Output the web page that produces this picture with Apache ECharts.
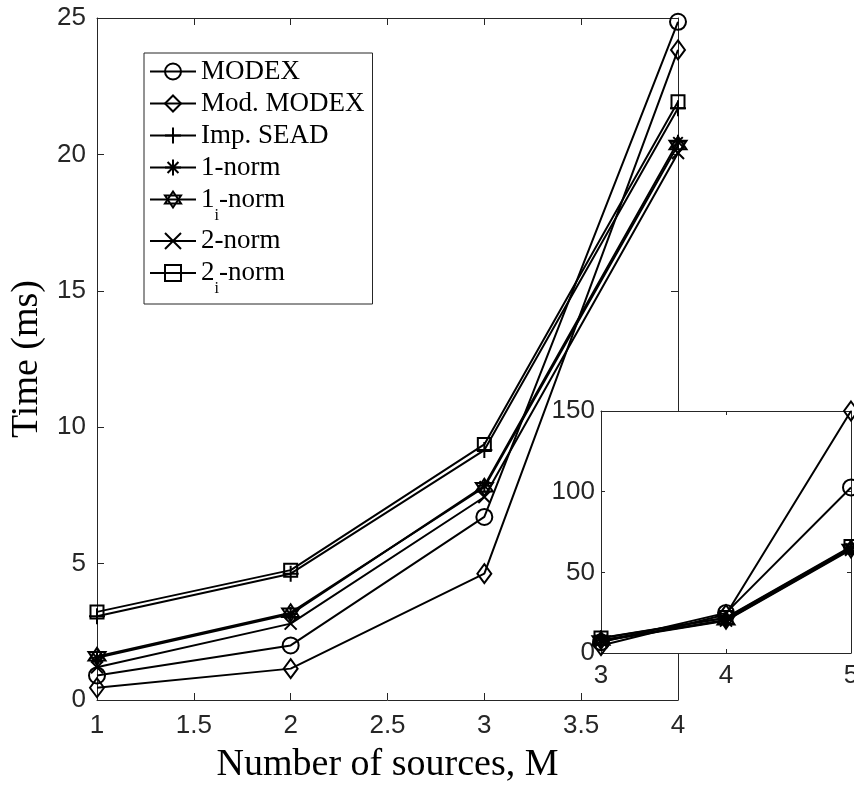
<!DOCTYPE html>
<html>
<head>
<meta charset="utf-8">
<script src="https://cdn.jsdelivr.net/npm/echarts@6/dist/echarts.min.js"></script>
<style>html,body{margin:0;padding:0;background:#fff;}#c{width:854px;height:790px;}</style>
</head>
<body>
<div id="c"></div>
<script>
// ---- data ----
const mValues = [1, 2, 3, 4, 5];
const seriesNames = ['MODEX', 'Mod. MODEX', 'Imp. SEAD', '1-norm', '1i-norm', '2-norm', '2i-norm'];
const modex    = [0.90, 2.00, 6.71, 24.86, 102.6];
const modModex = [0.45, 1.15, 4.63, 23.83, 150.0];
const impSead  = [3.07, 4.63, 9.16, 21.69, 65.5];
const norm1    = [1.55, 3.15, 7.85, 20.46, 65.0];
const norm1i   = [1.60, 3.20, 7.80, 20.34, 64.5];
const norm2    = [1.20, 2.80, 7.44, 20.05, 64.0];
const norm2i   = [3.23, 4.76, 9.37, 21.93, 66.0];
const mainXTicks = [1, 4, 0.5];   // min, max, interval
const mainYTicks = [0, 25, 5];
const insetXTicks = [3, 5, 1];
const insetYTicks = [0, 150, 50];

const allValues = [modex, modModex, impSead, norm1, norm1i, norm2, norm2i];
const symbols = [
  'circle',
  'diamond',
  'path://M5,0L5,10M0,5L10,5',
  'path://M5,0L5,10M0,5L10,5M1.6,1.6L8.4,8.4M1.6,8.4L8.4,1.6',
  'path://M5,0L9.33,7.5L0.67,7.5ZM5,10L0.67,2.5L9.33,2.5Z',
  'path://M0,0L10,10M0,10L10,0',
  'rect'
];
const symbolSizes = [16, [14, 19], 16, 14, 17, 12, 13];
const legendLabels = {
  'MODEX': 'MODEX', 'Mod. MODEX': 'Mod. MODEX', 'Imp. SEAD': 'Imp. SEAD',
  '1-norm': '1-norm', '1i-norm': '1{sub|i}-norm', '2-norm': '2-norm', '2i-norm': '2{sub|i}-norm'
};

const axisColor = '#262626';
const tickFont = {fontFamily: 'Liberation Sans', fontSize: 26, color: axisColor};

function makeSeries(xIdx, yIdx, from, to, z) {
  return seriesNames.map((name, i) => ({
    name: name,
    type: 'line',
    xAxisIndex: xIdx,
    yAxisIndex: yIdx,
    z: z,
    data: mValues.slice(from, to).map((m, k) => [m, allValues[i][from + k]]),
    symbol: symbols[i],
    symbolSize: symbolSizes[i],
    showAllSymbol: true,
    lineStyle: {color: '#000', width: 2},
    itemStyle: {color: 'rgba(0,0,0,0)', borderColor: '#000', borderWidth: 2},
    emphasis: {disabled: true},
    animation: false
  }));
}

function ax(grid, pos, t, showLabel, tickLen, z, margin) {
  return {
    type: 'value', gridIndex: grid, position: pos, min: t[0], max: t[1], interval: t[2], z: z,
    axisLine: {show: true, onZero: false, lineStyle: {color: axisColor, width: 1}},
    axisTick: {show: true, inside: true, length: tickLen, lineStyle: {color: axisColor}},
    axisLabel: Object.assign({show: showLabel, margin: margin}, tickFont),
    splitLine: {show: false}
  };
}

const xMain = ax(0, 'bottom', mainXTicks, true, 7, 0, 13);
xMain.name = 'Number of sources, M';
xMain.nameLocation = 'middle';
xMain.nameGap = 46;
xMain.nameTextStyle = {fontFamily: 'Liberation Serif', fontSize: 38, color: '#000'};
const yMain = ax(0, 'left', mainYTicks, true, 7, 0, 11);
yMain.name = 'Time (ms)';
yMain.nameLocation = 'middle';
yMain.nameGap = 30;
yMain.nameTextStyle = {fontFamily: 'Liberation Serif', fontSize: 38, color: '#000'};

const option = {
  animation: false,
  backgroundColor: '#fff',
  grid: [
    {left: 97, top: 18, width: 581, height: 682, show: false, containLabel: false, outerBoundsMode: 'none'},
    {left: 601, top: 411, width: 250, height: 242, show: true, backgroundColor: '#fff', borderWidth: 0, z: 10,
     containLabel: false, outerBoundsMode: 'none'}
  ],
  xAxis: [
    xMain,
    ax(0, 'top', mainXTicks, false, 7, 0, 8),
    ax(1, 'bottom', insetXTicks, true, 4, 11, 10),
    ax(1, 'top', insetXTicks, false, 4, 11, 8)
  ],
  yAxis: [
    yMain,
    ax(0, 'right', mainYTicks, false, 7, 0, 8),
    ax(1, 'left', insetYTicks, true, 4, 11, 6),
    ax(1, 'right', insetYTicks, false, 4, 11, 8)
  ],
  legend: {
    orient: 'vertical',
    left: 144, top: 53,
    padding: [4, 8, 7, 5],
    itemGap: 3,
    itemWidth: 46,
    itemHeight: 20,
    selectedMode: false,
    backgroundColor: '#fff',
    borderColor: axisColor,
    borderWidth: 1,
    borderRadius: 0,
    z: 20,
    data: seriesNames,
    itemStyle: {color: 'rgba(0,0,0,0)', borderColor: '#000', borderWidth: 2},
    lineStyle: {color: '#000', width: 2},
    formatter: function (name) { return legendLabels[name]; },
    textStyle: {
      fontFamily: 'Liberation Serif', fontSize: 27, color: '#000', lineHeight: 29,
      rich: {
        sub: {fontFamily: 'Liberation Serif', fontSize: 16, color: '#000', lineHeight: 17,
              verticalAlign: 'top', padding: [22.5, 0, 0, 0]}
      }
    }
  },
  series: makeSeries(0, 0, 0, 4, 2).concat(makeSeries(2, 2, 2, 5, 12))
};

const chart = echarts.init(document.getElementById('c'), null, {renderer: 'canvas'});
chart.setOption(option);
</script>
</body>
</html>
